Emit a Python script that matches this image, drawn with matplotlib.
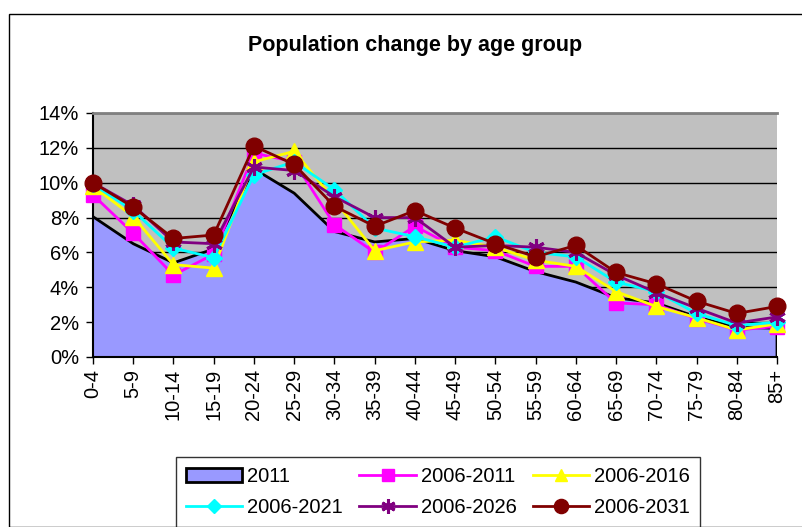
import numpy as np
import matplotlib.pyplot as plt
from matplotlib.patches import Rectangle
from matplotlib.ticker import PercentFormatter

plt.rcParams['font.family'] = ['Liberation Sans', 'DejaVu Sans']

# ==========================================
# 資料 (百分比)
# ==========================================
age_groups = ['0-4', '5-9', '10-14', '15-19', '20-24', '25-29', '30-34', '35-39',
              '40-44', '45-49', '50-54', '55-59', '60-64', '65-69', '70-74',
              '75-79', '80-84', '85+']

pop_2011 = [8.05, 6.5, 5.4, 6.2, 10.8, 9.4, 7.2, 6.6, 6.8, 6.1, 5.75, 4.9, 4.3,
            3.4, 3.1, 2.3, 1.7, 1.65]
chg_2006_2011 = [9.3, 7.1, 4.7, 5.9, 11.7, 11.2, 7.6, 6.0, 7.5, 6.3, 6.1, 5.2, 5.2,
                 3.1, 3.0, 2.2, 1.55, 1.75]
chg_2006_2016 = [9.8, 8.05, 5.3, 5.1, 11.2, 11.8, 9.0, 6.1, 6.6, 6.7, 6.3, 5.55, 5.2,
                 3.75, 2.9, 2.25, 1.55, 1.9]
chg_2006_2021 = [9.9, 8.4, 6.25, 5.7, 10.45, 11.2, 9.6, 7.4, 6.9, 6.3, 6.9, 6.0, 5.75,
                 4.3, 3.75, 2.5, 1.8, 2.0]
chg_2006_2026 = [10.0, 8.7, 6.6, 6.5, 10.9, 10.7, 9.2, 8.0, 8.0, 6.3, 6.4, 6.3, 6.0,
                 4.7, 3.7, 2.8, 1.95, 2.3]
chg_2006_2031 = [10.0, 8.6, 6.8, 7.0, 12.1, 11.05, 8.65, 7.5, 8.4, 7.4, 6.5, 5.75, 6.4,
                 4.85, 4.2, 3.2, 2.5, 2.9]

line_labels = ['2006-2011', '2006-2016', '2006-2021', '2006-2026', '2006-2031']
line_values = [chg_2006_2011, chg_2006_2016, chg_2006_2021, chg_2006_2026, chg_2006_2031]

# ==========================================
# 繪圖
# ==========================================
W, H = 803, 527
fig = plt.figure(figsize=(W / 100, H / 100), dpi=100)

# 外框
fig.patches.append(Rectangle((9 / W, 0), 1, 1 - 14 / H, transform=fig.transFigure,
                             fill=False, edgecolor='black', linewidth=1.0))

ax = fig.add_axes([93 / W, 1 - 357 / H, (777 - 93) / W, (357 - 113) / H])
ax.set_facecolor('#c0c0c0')

x = np.arange(len(age_groups))
ax.fill_between(x, pop_2011, 0, facecolor='#9999ff', edgecolor='none', zorder=2)
ax.plot(np.r_[x, x[-1]], np.r_[pop_2011, 0], color='black', linewidth=2, zorder=2.5)

styles = [
    dict(color='#ff00ff', marker='s', markersize=10),
    dict(color='#ffff00', marker='^', markersize=11),
    dict(color='#00ffff', marker='D', markersize=8),
    dict(color='#800080', marker=(6, 2, 0), markersize=12, markeredgewidth=2.2),
    dict(color='#800000', marker='o', markersize=12),
]
handles = []
for vals, lab, st in zip(line_values, line_labels, styles):
    h, = ax.plot(x, vals, linewidth=2, label=lab, zorder=3, clip_on=False, **st)
    handles.append(h)

area_proxy = Rectangle((0, 0), 1, 1, facecolor='#9999ff', edgecolor='black', linewidth=2)

ax.set_xlim(0, len(age_groups) - 1)
ax.set_ylim(0, 14)
ax.set_yticks(np.arange(0, 15, 2))
ax.yaxis.set_major_formatter(PercentFormatter(decimals=0))
ax.set_xticks(x)
ax.set_xticklabels(age_groups, rotation=90)
ax.tick_params(axis='both', labelsize=14.5, length=5, width=1, direction='out', color='black')
ax.tick_params(axis='y', pad=5)
ax.grid(axis='y', color='black', linewidth=1)
ax.set_axisbelow(True)

ax.spines['top'].set_color('#808080')
ax.spines['top'].set_linewidth(2)
ax.spines['right'].set_visible(False)
ax.spines['left'].set_linewidth(1.5)
ax.spines['bottom'].set_linewidth(1.5)

fig.text(415 / W, 1 - 45 / H, 'Population change by age group', ha='center', va='center',
         fontsize=15.5, fontweight='bold')

# 圖例: 逐列排列 (matplotlib 以欄優先填入)
all_h = [area_proxy] + handles
all_l = ['2011'] + line_labels
order = [0, 3, 1, 4, 2, 5]
leg = fig.legend([all_h[i] for i in order], [all_l[i] for i in order], ncol=3,
                 loc='upper left', bbox_to_anchor=(176 / W, 1 - 457 / H),
                 fontsize=14.5, frameon=True, fancybox=False, edgecolor='black',
                 handlelength=2.8, columnspacing=0.8, handletextpad=0.25,
                 borderpad=0.5, labelspacing=0.6, borderaxespad=0, markerscale=0.85)
leg.get_frame().set_linewidth(1.0)

plt.savefig('out.png', dpi=100)
